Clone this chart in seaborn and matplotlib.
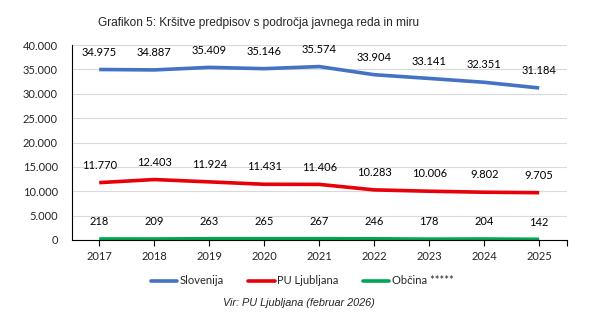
import matplotlib
matplotlib.use("Agg")
import matplotlib.pyplot as plt
import seaborn as sns
import pandas as pd
from matplotlib.lines import Line2D
from matplotlib.ticker import FuncFormatter, FixedLocator

years = ["2017", "2018", "2019", "2020", "2021", "2022", "2023", "2024", "2025"]
slovenija = [34975, 34887, 35409, 35146, 35574, 33904, 33141, 32351, 31184]
pu_ljubljana = [11770, 12403, 11924, 11431, 11406, 10283, 10006, 9802, 9705]
obcina = [218, 209, 263, 265, 267, 246, 178, 204, 142]
series_names = ["Slovenija", "PU Ljubljana", "Občina"]
colors = ["#4472C4", "#E8000B", "#00A651"]
y_ticks = [0, 5000, 10000, 15000, 20000, 25000, 30000, 35000, 40000]

sns.set_theme(style="white")
plt.rcParams['font.family'] = ['Lato', 'DejaVu Sans']

def fmt(v):
    return f"{v:,.0f}".replace(",", ".")

rows = []
for name, vals in zip(series_names, [slovenija, pu_ljubljana, obcina]):
    for i, (y, v) in enumerate(zip(years, vals)):
        rows.append({"x": i, "year": y, "value": v, "series": name})
df = pd.DataFrame(rows)

fig = plt.figure(figsize=(6.05, 3.29), dpi=100)
ax = fig.add_axes([71.7 / 605, 1 - 240 / 329, 495 / 605, 195 / 329])

sns.lineplot(data=df, x="x", y="value", hue="series", palette=colors,
             hue_order=series_names, linewidth=2.6, ax=ax, legend=False,
             solid_capstyle="butt", zorder=3)

for name, col in zip(series_names, colors):
    sub = df[df.series == name]
    for _, r in sub.iterrows():
        ax.annotate(fmt(r.value), (r.x, r.value), xytext=(0, 8.5),
                    textcoords="offset points", ha="center", va="bottom",
                    fontsize=8, color="#000000")

ax.set_xlim(-0.5, 8.5)
ax.set_ylim(0, 40000)
ax.set_xticks(range(len(years)))
ax.set_xticklabels(years, fontsize=8)
ax.xaxis.set_minor_locator(FixedLocator([8.5]))
ax.set_yticks(y_ticks)
ax.yaxis.set_major_formatter(FuncFormatter(lambda v, p: fmt(v)))
ax.tick_params(axis="y", labelsize=8, length=0, pad=10)
ax.tick_params(axis="x", which="both", direction="out", length=4, width=0.8,
               color="black", bottom=True, pad=4)
ax.set_xlabel("")
ax.set_ylabel("")
ax.grid(axis="y", color="#D9D9D9", linewidth=0.8)
ax.set_axisbelow(True)
for s in ["top", "right"]:
    ax.spines[s].set_visible(False)
for s in ["left", "bottom"]:
    ax.spines[s].set_color("black")
    ax.spines[s].set_linewidth(0.8)
ax.spines["bottom"].set_zorder(4)

fig.text(259 / 605, 1 - 23 / 329, "Grafikon 5: Kršitve predpisov s področja javnega reda in miru",
         ha="center", va="center", fontsize=8.6, family=["Liberation Sans", "DejaVu Sans"])

handles = [Line2D([0], [0], color=c, linewidth=2.6) for c in colors]
labels = ["Slovenija", "PU Ljubljana", "Občina *****"]
fig.legend(handles, labels, loc="center", bbox_to_anchor=(302 / 605, 1 - 281 / 329),
           ncol=3, frameon=False, fontsize=8, handlelength=2.4, handletextpad=0.2,
           columnspacing=2.2)

fig.text(299 / 605, 1 - 303 / 329, "Vir: PU Ljubljana (februar 2026)", ha="center",
         va="center", fontsize=7.8, style="italic", family=["Liberation Sans", "DejaVu Sans"])

fig.savefig("out.png", dpi=100)
